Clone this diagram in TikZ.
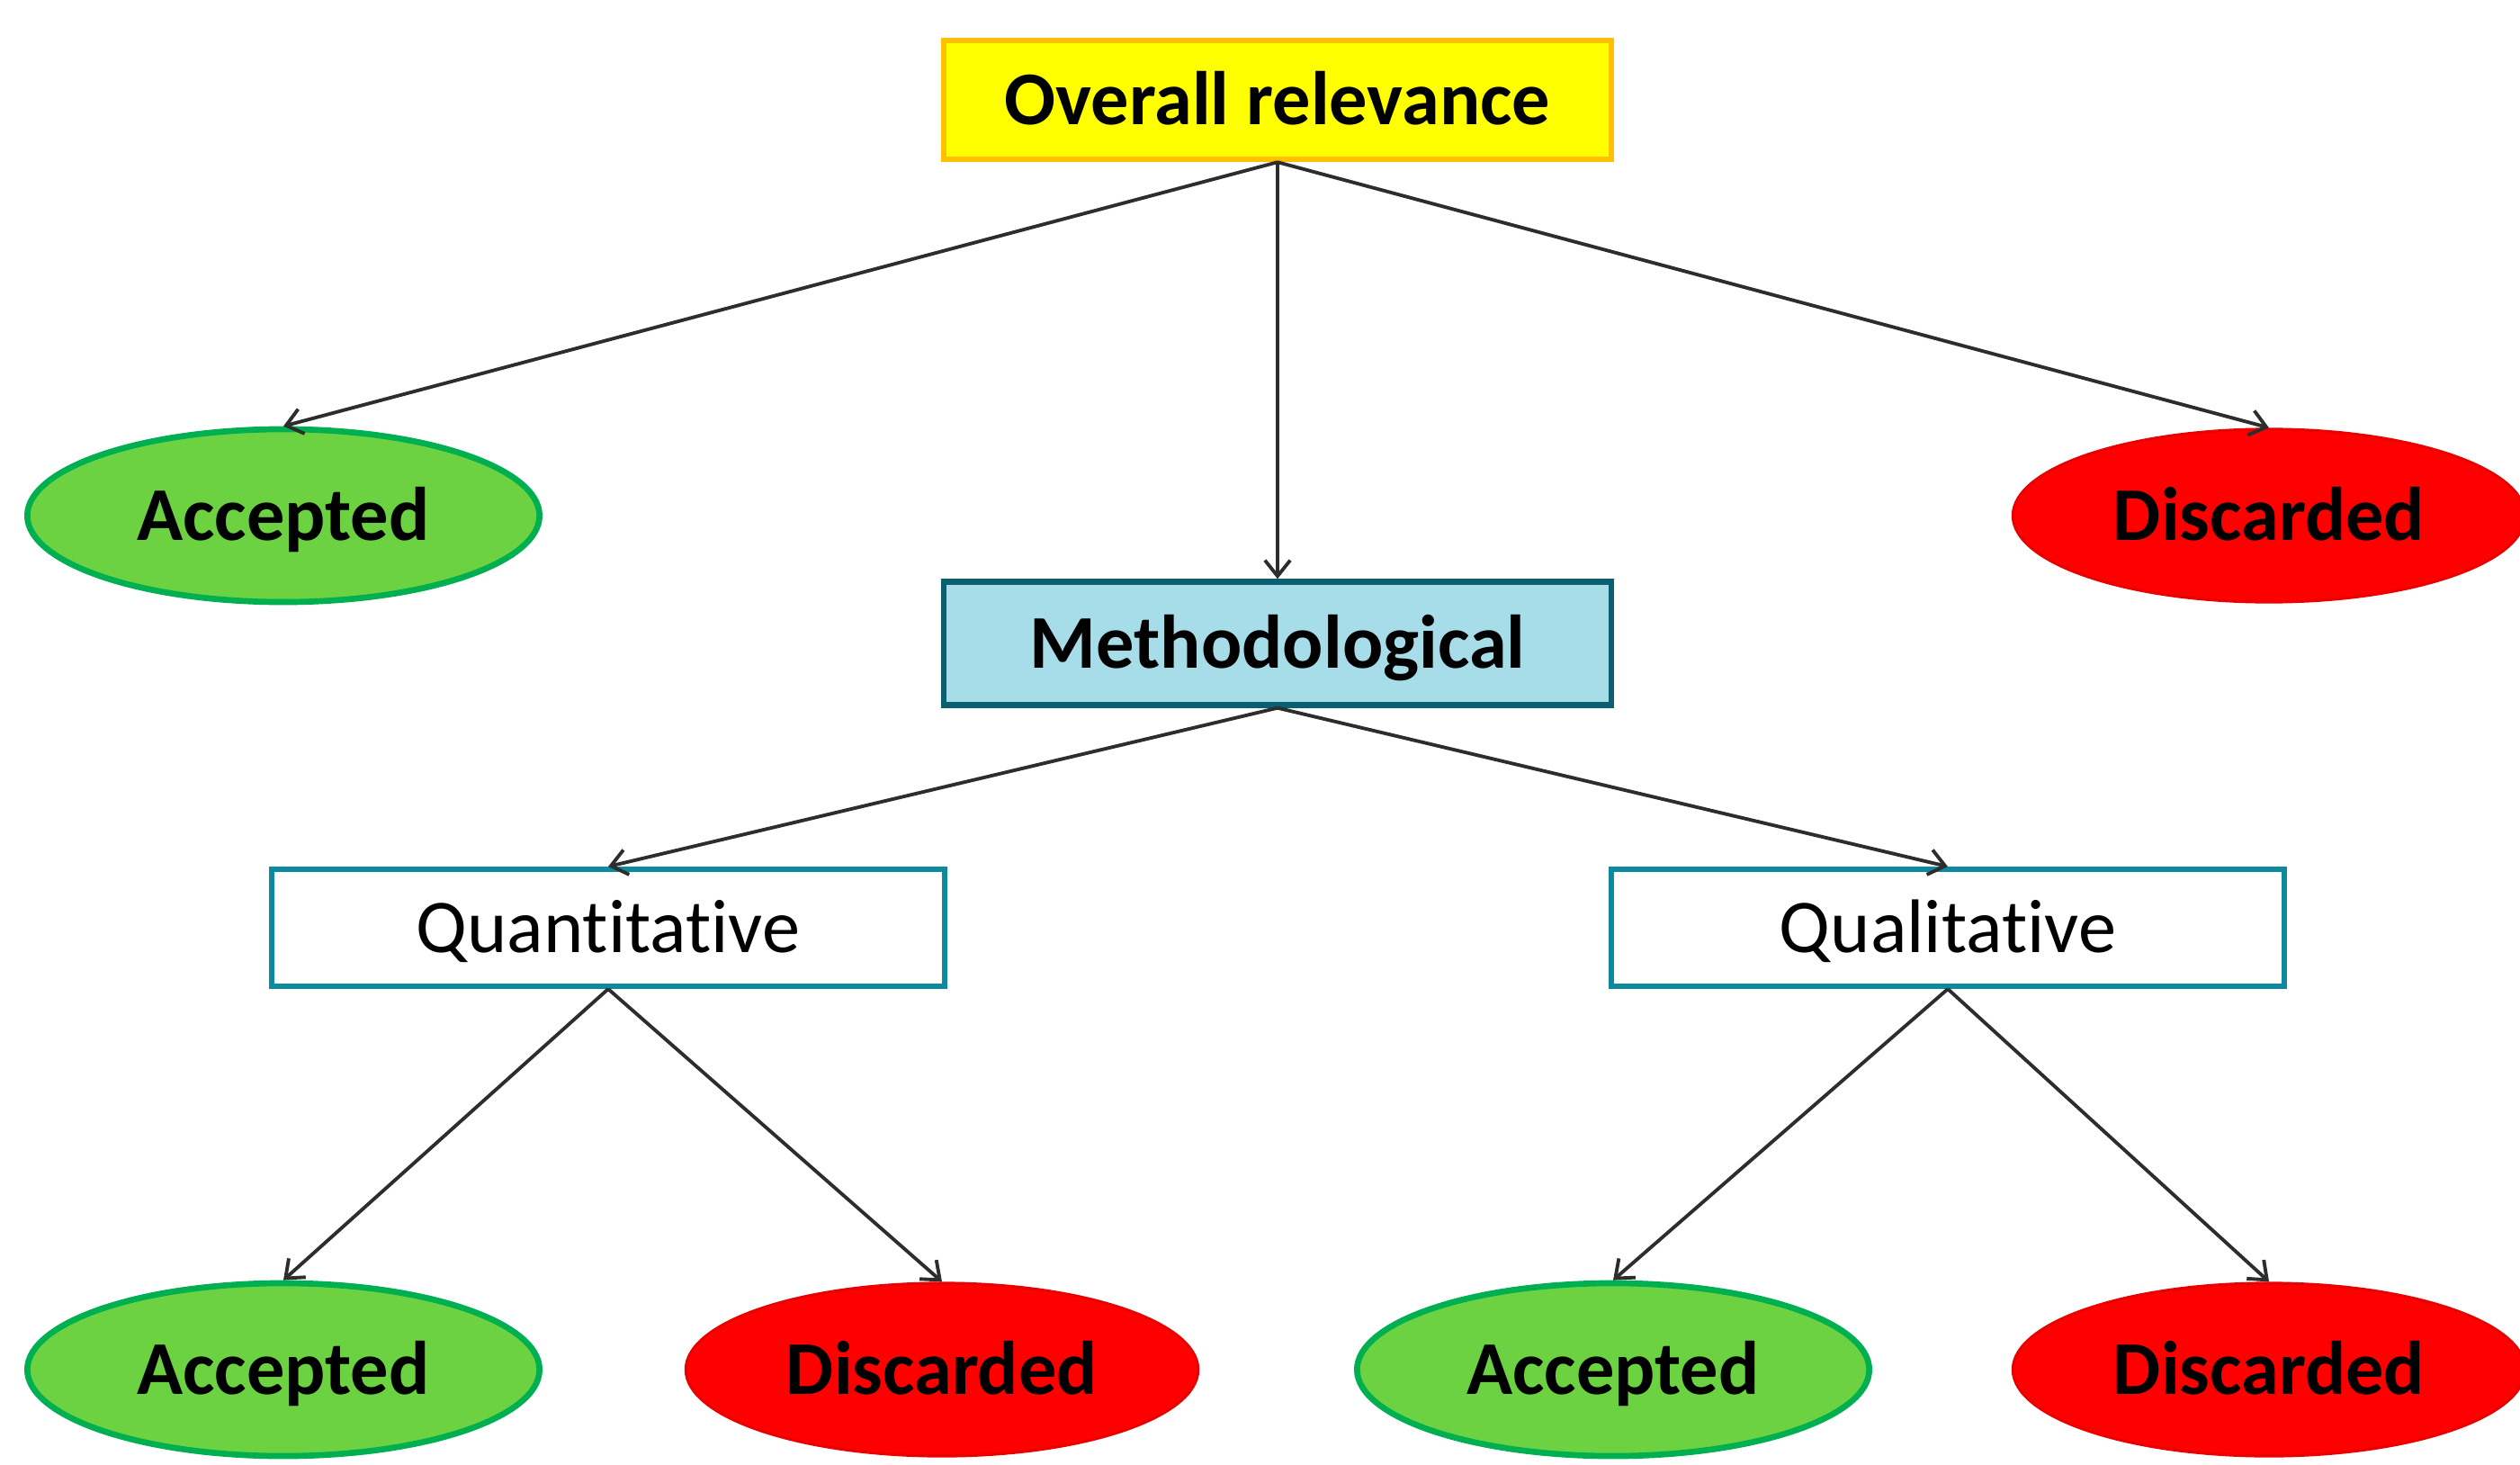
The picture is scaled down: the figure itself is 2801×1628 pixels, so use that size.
\documentclass[tikz,border=0pt]{standalone}
\usepackage{fontspec}
\setmainfont[Ligatures=NoCommon]{Carlito}
\usetikzlibrary{shapes.geometric,arrows.meta}
\definecolor{ybox}{RGB}{255,255,0}
\definecolor{yborder}{RGB}{255,192,0}
\definecolor{mfill}{RGB}{167,221,233}
\definecolor{mborder}{RGB}{10,95,112}
\definecolor{qborder}{RGB}{14,138,160}
\definecolor{gfill}{RGB}{108,210,66}
\definecolor{gborder}{RGB}{0,176,80}
\definecolor{rfill}{RGB}{255,0,0}
\definecolor{rborder}{RGB}{235,0,0}
\definecolor{arr}{RGB}{45,45,45}
\begin{document}
\begin{tikzpicture}[x=0.01cm,y=-0.01cm,
  txt/.style={font=\fontsize{24}{28}\selectfont, text=black, inner sep=0pt, text height=20pt, text depth=4.6pt},
  topbox/.style={txt, font=\fontsize{24}{28}\selectfont\bfseries, rectangle, fill=ybox, draw=yborder, line width=1.8pt, minimum width=7.42cm, minimum height=1.32cm},
  methbox/.style={txt, font=\fontsize{24}{28}\selectfont\bfseries, rectangle, fill=mfill, draw=mborder, line width=1.8pt, minimum width=7.42cm, minimum height=1.37cm},
  typebox/.style={txt, rectangle, fill=white, draw=qborder, line width=1.7pt, minimum width=7.48cm, minimum height=1.30cm},
  accbox/.style={txt, font=\fontsize{24}{28}\selectfont\bfseries, ellipse, fill=gfill, draw=gborder, line width=1.9pt, minimum width=5.69cm, minimum height=1.92cm},
  disbox/.style={txt, font=\fontsize{24}{28}\selectfont\bfseries, ellipse, fill=rfill, draw=rborder, line width=0.9pt, minimum width=5.69cm, minimum height=1.92cm},
  conn/.style={draw=arr, line width=1.1pt, -{Straight Barb[length=5pt,width=8pt]}}
]
\useasboundingbox (0,0) rectangle (2801,1628);
\node[topbox] (over) at (1420,111) {Overall relevance};
\node[accbox] (acc1) at (315,573) {Accepted};
\node[disbox] (dis1) at (2522,573) {Discarded};
\node[methbox] (meth) at (1420,715) {Methodological};
\node[typebox] (quan) at (676,1031) {Quantitative};
\node[typebox] (qual) at (2165,1031) {Qualitative};
\node[accbox] (acc2) at (315,1522) {Accepted};
\node[disbox] (dis2) at (1047,1522) {Discarded};
\node[accbox] (acc3) at (1793,1522) {Accepted};
\node[disbox] (dis3) at (2522,1522) {Discarded};
\draw[conn] (over.south) -- (acc1.north);
\draw[conn] (over.south) -- (dis1.north);
\draw[conn] (over.south) -- (meth.north);
\draw[conn] (meth.south) -- (quan.north);
\draw[conn] (meth.south) -- (qual.north);
\draw[conn] (quan.south) -- (acc2.north);
\draw[conn] (quan.south) -- (dis2.north);
\draw[conn] (qual.south) -- (acc3.north);
\draw[conn] (qual.south) -- (dis3.north);
\end{tikzpicture}
\end{document}
